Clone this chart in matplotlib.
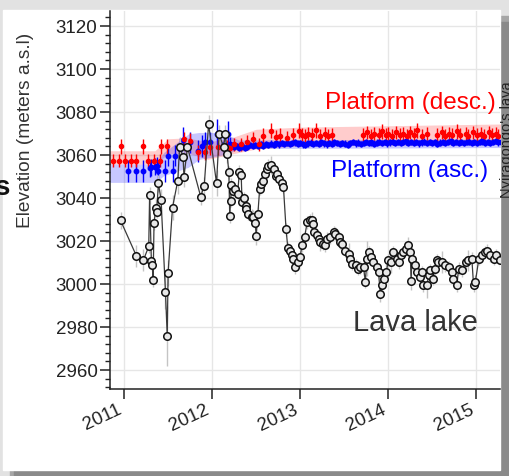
import matplotlib
matplotlib.use("Agg")
import matplotlib.pyplot as plt
from matplotlib.patches import Rectangle
from matplotlib.ticker import AutoMinorLocator, FixedLocator
from matplotlib.transforms import ScaledTranslation

plt.rcParams["font.family"] = ["Liberation Sans", "DejaVu Sans"]

# ---- data (decimal year, elevation m a.s.l., 1-sigma error) ----
lava_t = [2010.96, 2011.14, 2011.22, 2011.28, 2011.29, 2011.31, 2011.32, 2011.33, 2011.34, 2011.36,
          2011.37, 2011.39, 2011.42, 2011.47, 2011.49, 2011.50, 2011.55, 2011.61, 2011.63, 2011.67,
          2011.68, 2011.72, 2011.87, 2011.91, 2011.96, 2012.05, 2012.08, 2012.13, 2012.15, 2012.17,
          2012.19, 2012.20, 2012.21, 2012.22, 2012.24, 2012.26, 2012.29, 2012.31, 2012.33, 2012.34,
          2012.36, 2012.38, 2012.39, 2012.41, 2012.45, 2012.47, 2012.49, 2012.50, 2012.52, 2012.54,
          2012.56, 2012.58, 2012.60, 2012.62, 2012.64, 2012.67, 2012.70, 2012.72, 2012.74, 2012.76,
          2012.79, 2012.81, 2012.84, 2012.86, 2012.89, 2012.91, 2012.92, 2012.94, 2012.97, 2013.00,
          2013.02, 2013.05, 2013.08, 2013.11, 2013.13, 2013.15, 2013.16, 2013.19, 2013.21, 2013.23,
          2013.26, 2013.28, 2013.30, 2013.34, 2013.38, 2013.40, 2013.44, 2013.45, 2013.48, 2013.51,
          2013.55, 2013.57, 2013.59, 2013.63, 2013.66, 2013.68, 2013.72, 2013.74, 2013.76, 2013.78,
          2013.80, 2013.83, 2013.87, 2013.89, 2013.91, 2013.93, 2013.95, 2013.98, 2014.00, 2014.03,
          2014.06, 2014.10, 2014.12, 2014.15, 2014.17, 2014.20, 2014.23, 2014.25, 2014.26, 2014.27,
          2014.31, 2014.33, 2014.36, 2014.38, 2014.40, 2014.44, 2014.46, 2014.48, 2014.51, 2014.53,
          2014.55, 2014.57, 2014.61, 2014.65, 2014.69, 2014.73, 2014.74, 2014.78, 2014.80, 2014.84,
          2014.88, 2014.91, 2014.95, 2014.97, 2014.99, 2015.03, 2015.06, 2015.10, 2015.12, 2015.16,
          2015.20, 2015.23, 2015.27]
lava_z = [3029.6, 3013.1, 3011.2, 3017.5, 3041.2, 3010.5, 3009.1, 3001.7, 3028.3, 3035.4,
          3033.7, 3046.9, 3039.2, 2996.3, 2975.9, 3005.3, 3035.6, 3048.1, 3063.6, 3059.2,
          3050.0, 3063.7, 3040.7, 3045.6, 3074.4, 3046.9, 3069.8, 3063.6, 3069.8, 3060.5,
          3052.0, 3031.5, 3038.8, 3046.1, 3043.5, 3044.2, 3042.1, 3052.3, 3050.9, 3038.0,
          3039.8, 3036.5, 3035.1, 3032.8, 3031.1, 3031.4, 3028.6, 3022.3, 3032.8, 3044.3,
          3046.6, 3048.1, 3051.2, 3053.5, 3055.1, 3055.4, 3053.5, 3050.4, 3051.2, 3049.0,
          3047.2, 3045.3, 3025.4, 3016.7, 3015.6, 3013.3, 3011.8, 3007.9, 3010.2, 3012.5,
          3018.0, 3021.8, 3028.8, 3029.6, 3029.6, 3028.0, 3024.1, 3022.6, 3021.1, 3019.5,
          3018.7, 3018.0, 3021.1, 3021.8, 3024.1, 3023.4, 3021.8, 3019.5, 3018.7, 3015.6,
          3014.1, 3011.8, 3009.5, 3008.7, 3007.2, 3007.9, 3007.9, 3001.0, 3011.8, 3014.9,
          3012.5, 3010.2, 3007.9, 3005.6, 2995.6, 2999.4, 3002.5, 3005.6, 3011.0, 3010.2,
          3014.9, 3011.8, 3010.2, 3013.3, 3014.9, 3016.4, 3018.0, 3014.9, 3001.4, 3011.8,
          3008.7, 3005.6, 3003.3, 3005.6, 2999.4, 2999.4, 3004.0, 3006.4, 3002.5, 3007.2,
          3011.0, 3010.2, 3010.2, 3008.7, 3007.9, 3005.6, 3002.5, 2999.4, 3007.2, 3006.4,
          3010.2, 3011.0, 3011.8, 2999.4, 3001.0, 3011.8, 3013.3, 3014.9, 3015.6, 3013.3,
          3011.8, 3013.3, 3011.0]
lava_err = [4, 5, 5, 3, 4, 3, 3, 3, 3, 4,
            3, 4, 5, 8, 14, 6, 6, 6, 5, 4,
            5, 4, 4, 4, 4, 6, 4, 4, 4, 4,
            3, 3, 3, 3, 3, 3, 3, 3, 3, 3,
            3, 4, 3, 3, 4, 3, 3, 4, 3, 3,
            3, 3, 3, 3, 3, 4, 3, 3, 3, 3,
            3, 3, 3, 3, 3, 3, 3, 3, 3, 3,
            3, 3, 3, 3, 4, 3, 3, 3, 3, 4,
            3, 3, 3, 3, 3, 3, 3, 3, 4, 3,
            5, 3, 3, 3, 3, 3, 4, 3, 8, 3,
            3, 3, 3, 3, 4, 3, 3, 4, 3, 5,
            3, 3, 3, 3, 3, 3, 4, 3, 4, 3,
            3, 3, 3, 3, 3, 6, 3, 3, 3, 3,
            3, 3, 5, 3, 3, 3, 3, 3, 3, 3,
            3, 5, 3, 3, 3, 3, 3, 3, 3, 3,
            3, 3, 3]

asc_t = [2011.05, 2011.14, 2011.22, 2011.29, 2011.31, 2011.35, 2011.37, 2011.39, 2011.47, 2011.50,
         2011.55, 2011.58, 2011.63, 2011.67, 2011.75, 2011.84, 2011.88, 2011.92, 2011.98, 2012.06,
         2012.13, 2012.18, 2012.20, 2012.22, 2012.25, 2012.28, 2012.31, 2012.34, 2012.37, 2012.40,
         2012.43, 2012.46, 2012.49, 2012.52, 2012.55, 2012.58, 2012.61, 2012.64, 2012.67, 2012.70,
         2012.73, 2012.76, 2012.79, 2012.82, 2012.85, 2012.88, 2012.91, 2012.94, 2012.97, 2013.00,
         2013.03, 2013.06, 2013.09, 2013.12, 2013.15, 2013.18, 2013.21, 2013.24, 2013.27, 2013.30,
         2013.33, 2013.36, 2013.39, 2013.42, 2013.45, 2013.48, 2013.51, 2013.54, 2013.57, 2013.60,
         2013.63, 2013.66, 2013.69, 2013.72, 2013.75, 2013.78, 2013.81, 2013.84, 2013.87, 2013.90,
         2013.93, 2013.96, 2013.99, 2014.02, 2014.05, 2014.08, 2014.11, 2014.14, 2014.17, 2014.20,
         2014.23, 2014.26, 2014.29, 2014.32, 2014.35, 2014.38, 2014.41, 2014.44, 2014.47, 2014.50,
         2014.53, 2014.56, 2014.59, 2014.62, 2014.65, 2014.68, 2014.71, 2014.74, 2014.77, 2014.80,
         2014.83, 2014.86, 2014.89, 2014.92, 2014.95, 2014.98, 2015.01, 2015.04, 2015.07, 2015.10,
         2015.13, 2015.16, 2015.19, 2015.22, 2015.25, 2015.28]
asc_z = [3052.7, 3052.7, 3052.7, 3053.9, 3054.3, 3054.6, 3055.1, 3052.7, 3052.7, 3059.7,
         3052.7, 3059.7, 3062.8, 3067.0, 3065.9, 3062.0, 3064.3, 3065.9, 3065.9, 3069.8,
         3065.1, 3069.8, 3065.3, 3064.5, 3063.8, 3064.2, 3063.5, 3064.0, 3063.2, 3063.9,
         3064.6, 3064.1, 3064.8, 3064.3, 3065.0, 3064.4, 3065.1, 3064.7, 3065.3, 3064.9,
         3065.4, 3065.0, 3065.6, 3065.2, 3065.8, 3065.1, 3065.5, 3065.9, 3065.3, 3065.7,
         3065.0, 3064.6, 3065.4, 3065.8, 3065.1, 3065.6, 3065.2, 3065.9, 3065.4, 3065.0,
         3065.6, 3065.3, 3065.9, 3065.5, 3065.1, 3065.7, 3065.3, 3064.9, 3065.6, 3066.0,
         3065.4, 3065.8, 3065.2, 3065.7, 3066.1, 3065.5, 3065.9, 3065.3, 3065.8, 3066.2,
         3065.6, 3066.0, 3065.4, 3065.9, 3066.3, 3065.7, 3066.1, 3065.5, 3066.0, 3066.4,
         3065.8, 3066.2, 3065.6, 3066.1, 3065.4, 3065.9, 3066.3, 3065.7, 3066.2, 3065.6,
         3066.0, 3065.3, 3065.8, 3066.2, 3065.5, 3066.0, 3066.4, 3065.8, 3066.2, 3065.6,
         3066.1, 3065.5, 3066.0, 3066.3, 3065.7, 3066.1, 3065.5, 3066.0, 3066.4, 3065.8,
         3066.2, 3065.6, 3066.1, 3066.5, 3065.9, 3066.2]
asc_err = [5, 5, 5, 4, 4, 4, 4, 5, 5, 5,
           5, 5, 5, 6, 5, 5, 5, 5, 5, 7,
           5, 6, 3, 1.5, 1.5, 1.5, 1.5, 1.5, 1.5, 1.5,
           1.5, 1.5, 1.5, 1.5, 1.5, 1.5, 1.5, 1.5, 1.5, 1.5,
           1.5, 1.5, 1.5, 1.5, 1.5, 1.5, 1.5, 1.5, 1.5, 1.5,
           1.5, 1.5, 1.5, 1.5, 1.5, 1.5, 1.5, 1.5, 1.5, 1.5,
           1.5, 1.5, 1.5, 1.5, 1.5, 1.5, 1.5, 1.5, 1.5, 1.5,
           1.5, 1.5, 1.5, 1.5, 1.5, 1.5, 1.5, 1.5, 1.5, 1.5,
           1.5, 1.5, 1.5, 1.5, 1.5, 1.5, 1.5, 1.5, 1.5, 1.5,
           1.5, 1.5, 1.5, 1.5, 1.5, 1.5, 1.5, 1.5, 1.5, 1.5,
           1.5, 1.5, 1.5, 1.5, 1.5, 1.5, 1.5, 1.5, 1.5, 1.5,
           1.5, 1.5, 1.5, 1.5, 1.5, 1.5, 1.5, 1.5, 1.5, 1.5,
           1.5, 1.5, 1.5, 1.5, 1.5, 1.5]

desc_t = [2010.87, 2010.94, 2010.96, 2011.01, 2011.08, 2011.14, 2011.22, 2011.27, 2011.34, 2011.41,
          2011.42, 2011.49, 2011.68, 2011.75, 2011.84, 2011.92, 2011.98, 2012.07, 2012.17, 2012.20,
          2012.25, 2012.33, 2012.40, 2012.47, 2012.53, 2012.58, 2012.67, 2012.72, 2012.77, 2012.85,
          2012.92, 2012.99, 2013.02, 2013.06, 2013.09, 2013.13, 2013.18, 2013.23, 2013.28, 2013.32,
          2013.36, 2013.71, 2013.76, 2013.80, 2013.84, 2013.89, 2013.93, 2013.97, 2014.00, 2014.04,
          2014.09, 2014.13, 2014.17, 2014.21, 2014.25, 2014.29, 2014.33, 2014.38, 2014.44, 2014.56,
          2014.61, 2014.65, 2014.69, 2014.72, 2014.78, 2014.82, 2014.88, 2014.91, 2014.96, 2015.01,
          2015.05, 2015.09, 2015.14, 2015.18, 2015.22, 2015.25]
desc_z = [3057.4, 3057.4, 3064.0, 3057.4, 3057.4, 3057.4, 3064.0, 3057.4, 3057.4, 3057.4,
          3064.0, 3064.0, 3067.4, 3066.7, 3061.2, 3061.2, 3063.6, 3063.6, 3063.6, 3063.1,
          3065.1, 3065.1, 3066.0, 3067.4, 3065.1, 3069.0, 3071.3, 3068.5, 3069.0, 3068.0,
          3069.5, 3071.3, 3069.5, 3069.0, 3070.0, 3069.5, 3071.5, 3069.0, 3070.0, 3069.0,
          3069.5, 3069.5, 3070.5, 3069.0, 3070.0, 3069.5, 3071.0, 3069.5, 3070.0, 3069.0,
          3070.5, 3069.5, 3070.0, 3069.0, 3070.5, 3069.5, 3071.5, 3069.0, 3070.0, 3069.5,
          3070.5, 3069.0, 3070.0, 3069.5, 3071.0, 3069.5, 3070.0, 3069.0, 3070.5, 3069.5,
          3070.0, 3069.0, 3070.5, 3069.5, 3070.0, 3069.0]
desc_err = [3, 3, 3.5, 3, 3, 3, 3.5, 3, 3, 3,
            3.5, 3.5, 3.5, 3.5, 3.5, 3.5, 3.5, 3.5, 3.5, 3,
            3, 3, 3.5, 3.5, 3, 3.5, 3.5, 3, 3.5, 3,
            3, 3.5, 3, 3, 3, 3, 3.5, 3, 3, 3,
            3, 3, 3, 3, 3, 3, 3.5, 3, 3, 3,
            3, 3, 3, 3, 3, 3, 3.5, 3, 3, 3,
            3, 3, 3, 3, 3.5, 3, 3, 3, 3, 3,
            3, 3, 3, 3, 3, 3]

# uncertainty envelopes of the two platform tracks
desc_band_t = [2010.80, 2011.35, 2011.50, 2011.72, 2011.95, 2012.23, 2012.50, 2013.00, 2015.35]
desc_band_lo = [3055.8, 3055.8, 3060.5, 3061.0, 3058.0, 3060.6, 3062.8, 3064.3, 3065.0]
desc_band_hi = [3062.0, 3062.0, 3067.6, 3068.0, 3066.0, 3068.2, 3072.0, 3073.0, 3074.5]
asc_band_t = [2010.80, 2011.36, 2011.45, 2011.73, 2011.85, 2012.00, 2012.20, 2012.30, 2015.35]
asc_band_lo = [3047.3, 3047.3, 3050.4, 3054.3, 3058.0, 3059.0, 3061.0, 3063.0, 3063.5]
asc_band_hi = [3055.8, 3055.8, 3061.2, 3069.8, 3070.5, 3070.5, 3069.0, 3067.0, 3067.5]

years = [2011, 2012, 2013, 2014, 2015]
elev_ticks = [2960, 2980, 3000, 3020, 3040, 3060, 3080, 3100, 3120]

W, H = 510, 476
fig = plt.figure(figsize=(W / 100, H / 100), dpi=100)
fig.patch.set_facecolor("#e2e2e2")

# screenshot card with drop shadow
fig.add_artist(Rectangle((10 / W, 0), 1, 1 - 16 / H, transform=fig.transFigure,
                         color="#a6a6a6", zorder=-3))
fig.add_artist(Rectangle((14 / W, 0), 1, 1 - 22 / H, transform=fig.transFigure,
                         color="#8a8a8a", zorder=-2))
fig.add_artist(Rectangle((3 / W, 1 - 470 / H), 497 / W, 460 / H, transform=fig.transFigure,
                         color="white", zorder=-1))

ax = fig.add_axes([110 / W, 1 - 389 / H, 390 / W, 378 / H])
ax.set_facecolor("none")

ax.fill_between(desc_band_t, desc_band_lo, desc_band_hi, color="#ff0000", alpha=0.2, lw=0, zorder=1)
ax.fill_between(asc_band_t, asc_band_lo, asc_band_hi, color="#0000ff", alpha=0.22, lw=0, zorder=1)

ax.errorbar(asc_t, asc_z, yerr=asc_err, fmt="o", color="#0000ff", ms=3.2, elinewidth=1,
            capsize=0, zorder=3)
ax.errorbar(desc_t, desc_z, yerr=desc_err, fmt="o", color="#ff0000", ms=3.0, elinewidth=1,
            capsize=0, zorder=3)
ax.errorbar(lava_t, lava_z, yerr=lava_err, fmt="none", ecolor="#c4c4c4", elinewidth=1,
            capsize=0, zorder=4)
ax.plot(lava_t, lava_z, "-", color="#3a3a3a", lw=0.9, zorder=5)
ax.plot(lava_t, lava_z, "o", ms=5.4, mfc="#e8e8e8", mec="#111111", mew=1.1, zorder=6)

ax.set_xlim(2010.84, 2015.27)
ax.set_ylim(2951.2, 3127)
ax.xaxis.set_major_locator(FixedLocator(years))
ax.set_xticklabels([str(y) for y in years], rotation=25, ha="right")
shift = ScaledTranslation(11 / 100, -10 / 100, fig.dpi_scale_trans)
for lab in ax.get_xticklabels():
    lab.set_transform(lab.get_transform() + shift)
ax.set_yticks(elev_ticks)
ax.yaxis.set_minor_locator(AutoMinorLocator(5))
ax.grid(True, color="#e6e6e6", lw=1, zorder=0)
ax.set_axisbelow(True)
for s in ("top", "right"):
    ax.spines[s].set_visible(False)
for s in ("left", "bottom"):
    ax.spines[s].set_color("#222222")
    ax.spines[s].set_linewidth(1.1)
ax.tick_params(axis="both", which="major", direction="out", length=7, width=1.1,
               color="#222222", labelsize=13.5, labelcolor="#222222", pad=2)
ax.tick_params(axis="y", which="minor", direction="out", length=3.5, width=1, color="#222222")
ax.set_ylabel("Elevation (meters a.s.l)", fontsize=13.8, color="#333333")
ax.yaxis.set_label_coords((34 - 110) / 390, (389 - 130) / 378)

ax.text(2015.22, 3084.3, "Platform (desc.)", color="#ff0000", fontsize=17.5,
        ha="right", va="center", zorder=7)
ax.text(2015.14, 3052.7, "Platform (asc.)", color="#0000ff", fontsize=17.5,
        ha="right", va="center", zorder=7)
ax.text(2015.02, 2981.8, "Lava lake", color="#333333", fontsize=21,
        ha="right", va="center", zorder=7)

# fragments of neighbouring panels cut by the screenshot
fig.text(2 / W, 1 - 188 / H, "s", fontsize=20, fontweight="bold", color="#111111",
         ha="center", va="center")
fig.text(507 / W, 1 - 140 / H, "Nyiragongo's lava", fontsize=10.5, color="#222222",
         rotation=90, ha="center", va="center")

fig.savefig("out.png", dpi=100, facecolor=fig.get_facecolor())
